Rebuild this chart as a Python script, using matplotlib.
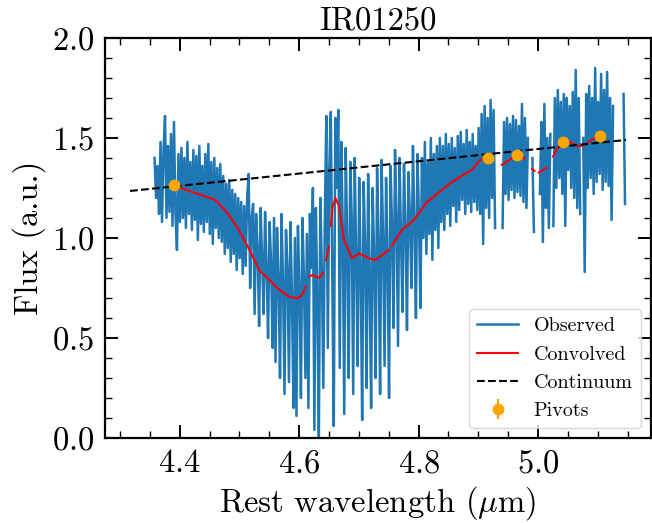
import numpy as np
import matplotlib
matplotlib.use("Agg")
import matplotlib.pyplot as plt
from matplotlib.ticker import MultipleLocator

plt.rcParams['font.family'] = ['cmr10', 'DejaVu Serif']
plt.rcParams['mathtext.fontset'] = 'cm'
plt.rcParams['axes.formatter.use_mathtext'] = True

# ---------------- data ----------------
title = "IR01250"

# observed spectrum on a regular wavelength grid (step 0.0025 micron), NaN = gap
obs_start, obs_step = 4.358, 0.0025
obs_flux = [
    1.40, 1.20, 1.36, 1.12, 1.48, 1.08, 1.44, 1.61, 1.10, 1.46,
    1.13, 1.52, 1.06, 1.58, 1.12, 0.94, 1.42, 1.08, 1.45, 1.10,
    1.40, 1.05, 1.48, 1.12, 1.38, 1.04, 1.44, 1.09, 1.41, 0.99,
    1.46, 1.07, 1.36, 1.03, 1.42, 1.08, 1.47, 1.02, 1.38, 0.97,
    1.40, 1.05, 1.35, 1.00, 1.37, 0.98, 1.31, 0.92, 1.27, 0.95,
    1.29, 0.88, 1.24, 0.92, 1.22, 0.84, 1.20, 0.90, 1.18, 0.82,
    1.16, 0.86, 1.20, 1.32, 0.75, 1.10, 1.17, 0.62, 1.12, 0.95,
    0.56, 1.15, 0.90, 0.62, 1.13, 0.85, 0.50, 1.08, 0.88, 0.45,
    1.10, 0.38, 1.05, 0.80, 0.30, 1.12, 0.78, 0.22, 1.04, 0.85,
    0.28, 1.08, 0.70, 0.15, 1.00, 0.11, 1.06, 0.75, 0.20, 1.10,
    0.80, 0.30, 1.02, 0.15, 1.12, 0.85, 1.25, 0.04, 1.15, 0.70,
    0.00, 1.20, 0.85, 0.25, 1.10, 1.61, 0.45, 1.35, 1.63, 0.80,
    0.06, 1.60, 1.25, 1.64, 0.35, 1.48, 1.05, 0.12, 1.45, 0.95,
    0.30, 1.38, 1.10, 0.22, 1.40, 0.90, 0.36, 1.30, 0.85, 0.09,
    1.28, 0.95, 0.25, 1.32, 0.80, 0.15, 1.25, 0.90, 0.30, 1.35,
    0.98, 0.22, 1.39, 1.00, 0.36, 1.30, 0.90, 0.20, 1.36, 1.05,
    0.55, 1.44, 1.10, 0.46, 1.40, 1.00, 0.63, 1.37, 1.05, 0.54,
    1.33, 1.10, 0.75, 1.46, 1.05, 0.60, 1.42, 1.12, 0.65, 1.40,
    1.00, 1.48, 0.92, 1.38, 1.02, 1.50, 0.89, 1.42, 1.04, 1.46,
    0.95, 1.50, 1.08, 1.46, 1.04, 1.52, 1.12, 1.47, 1.06, 1.50,
    1.16, 1.45, 1.08, 1.51, 1.14, 1.53, 1.19, 1.47, 1.12, 1.54,
    1.17, 1.48, 1.13, 1.52, 1.18, 1.46, 1.14, 1.55, 1.12, 1.62,
    0.97, 1.66, 1.15, 1.60, 1.10, 1.69, 1.20, 1.64, 1.05, np.nan,
    np.nan, np.nan, np.nan, 1.05, 1.58, 1.22, 1.60, 1.19, 1.57, 1.24,
    1.61, 1.20, 1.59, 1.23, 1.56, 1.21, 1.67, 1.18, 1.60, 1.15,
    1.50, np.nan, np.nan, 1.40, 1.03, np.nan, np.nan, np.nan, 1.22, 1.58,
    0.98, 1.67, 1.15, 1.50, 1.05, 1.52, np.nan, 1.06, 1.70, 1.25,
    1.74, 1.30, 1.68, 1.22, 1.72, 1.06, 1.70, 1.34, 1.66, 1.25,
    1.73, 1.20, 1.84, 1.15, 1.70, 1.12, np.nan, 1.50, 0.83, 1.72,
    1.25, 1.76, 1.30, 1.70, 1.22, 1.85, 1.28, 1.68, 1.32, 1.82,
    1.24, 1.74, 1.28, 1.83, 1.26, 1.70, 1.09, 1.66, np.nan, np.nan,
    np.nan, np.nan, np.nan, np.nan, 1.72, 1.17,
]
obs_wave = obs_start + obs_step * np.arange(len(obs_flux))

# convolved model (NaN = gap)
conv_wave = [4.390, 4.419, 4.444, 4.460, 4.480, 4.497, 4.517, 4.533, 4.550,
             4.567, 4.583, 4.597, 4.605, 4.611, np.nan, 4.617, 4.622, 4.633,
             4.640, np.nan, 4.645, 4.650, np.nan, 4.653, 4.656, 4.661, 4.667,
             4.675, 4.689, 4.700, 4.717, 4.728, 4.750, np.nan, 4.755, 4.772,
             4.792, 4.814, 4.839, 4.856, 4.872, 4.889, 4.903, 4.9155, np.nan,
             4.939, 4.956, 4.964, 4.978, np.nan, 4.990, 4.994, np.nan, 5.001,
             5.014, np.nan, 5.025, 5.033, 5.041, 5.053, 5.067, 5.078, 5.089,
             5.103]
conv_flux = [1.262, 1.232, 1.207, 1.190, 1.125, 1.050, 0.940, 0.840, 0.790,
             0.740, 0.707, 0.698, 0.715, 0.757, np.nan, 0.807, 0.815, 0.800,
             0.825, np.nan, 0.890, 0.957, np.nan, 1.060, 1.157, 1.198, 1.157,
             0.990, 0.898, 0.923, 0.898, 0.890, 0.940, np.nan, 0.960, 1.040,
             1.090, 1.180, 1.240, 1.280, 1.310, 1.340, 1.390, 1.400, np.nan,
             1.365, 1.398, 1.415, 1.398, np.nan, 1.345, 1.335, np.nan, 1.327,
             1.350, np.nan, 1.407, 1.453, 1.478, 1.480, 1.457, 1.465, 1.490,
             1.512]

# continuum (straight line)
cont_wave = [4.317, 5.147]
cont_flux = [1.235, 1.490]

# pivots
pivot_wave = [4.390, 4.9155, 4.964, 5.041, 5.103]
pivot_flux = [1.265, 1.400, 1.415, 1.478, 1.512]
pivot_err = [0.01, 0.01, 0.01, 0.01, 0.01]

# ---------------- plot ----------------
fig = plt.figure(figsize=(6.52, 5.23), dpi=100)
ax = fig.add_axes([0.161, 0.1625, 0.8375, 0.765])

ax.plot(obs_wave, obs_flux, color='#1f77b4', lw=1.8, label='Observed')
ax.plot(conv_wave, conv_flux, color='red', lw=1.5, label='Convolved')
ax.plot(cont_wave, cont_flux, color='black', ls='--', lw=1.5, label='Continuum')
ax.errorbar(pivot_wave, pivot_flux, yerr=pivot_err, fmt='o', color='orange',
            ms=7.5, label='Pivots', zorder=5)

ax.set_xlim(4.275, 5.189)
ax.set_ylim(0.0, 2.0)
ax.xaxis.set_major_locator(MultipleLocator(0.2))
ax.xaxis.set_minor_locator(MultipleLocator(0.05))
ax.yaxis.set_major_locator(MultipleLocator(0.5))
ax.yaxis.set_minor_locator(MultipleLocator(0.1))
ax.tick_params(which='both', direction='in', top=True, right=True,
               labelsize=23.5)
ax.tick_params(which='major', length=9.5, width=1.4, pad=8)
ax.tick_params(which='minor', length=4.8, width=1.0)
for s in ax.spines.values():
    s.set_linewidth(1.6)

ax.set_xlabel(r'Rest wavelength ($\mu$m)', fontsize=23.5)
ax.set_ylabel('Flux (a.u.)', fontsize=23.5)
ax.set_title(title, fontsize=23.5)

ax.legend(loc='lower right', fontsize=14.5, borderaxespad=0.5)

fig.savefig('out.png', dpi=100)
